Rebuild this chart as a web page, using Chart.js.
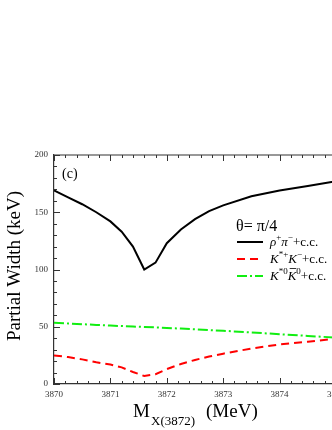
<!DOCTYPE html>
<html>
<head>
<meta charset="utf-8">
<script src="https://cdn.jsdelivr.net/npm/chart.js@4.4.1/dist/chart.umd.min.js"></script>
<style>
  html, body { margin: 0; padding: 0; background: #fff; overflow: hidden; }
  #wrap { position: absolute; left: 0; top: 0; width: 350px; height: 430px; }
</style>
</head>
<body>
<div id="wrap"><canvas id="grafico" width="350" height="430"></canvas></div>
<script>
// Datos
const masas = [3870, 3870.25, 3870.5, 3870.75, 3871, 3871.2, 3871.4, 3871.6, 3871.8, 3872,
               3872.25, 3872.5, 3872.75, 3873, 3873.5, 3874, 3874.5, 3875];
const rhoPi = [169, 163, 157, 150, 142, 133, 120, 100, 106, 123,
               135, 144, 151, 156, 164, 169, 173, 177];
const kStarKCargado = [25, 23.5, 21.5, 19, 17, 14.5, 10.5, 7, 8.5, 13,
                       17.5, 21, 24, 26.5, 31, 34.5, 37, 39.5];
const kStarKNeutro = [53.5, 52.9, 52.2, 51.6, 51, 50.6, 50.2, 49.8, 49.4, 49,
                      48.4, 47.8, 47.1, 46.5, 45, 43.5, 42, 40.5];
const xTicks = [3870, 3871, 3872, 3873, 3874, 3875];
const yTicks = [0, 50, 100, 150, 200];

const serif = '"Liberation Serif", "DejaVu Serif", serif';

function puntos(valores) {
    return masas.map((m, i) => ({ x: m, y: valores[i] }));
}

// Etiquetas de la leyenda (con superíndices)
const leyenda = [
    [['ρ', 'i'], ['+', 's'], ['π', 'i'], ['−', 's'], ['+c.c.', 'n']],
    [['K', 'i'], ['*+', 's'], ['K', 'i'], ['−', 's'], ['+c.c.', 'n']],
    [['K', 'i'], ['*0', 's'], ['K', 'io'], ['0', 's'], ['+c.c.', 'n']]
];

const decoracion = {
    id: 'decoracion',
    afterDraw(chart) {
        const ctx = chart.ctx;
        const a = chart.chartArea;
        const x = chart.scales.x;
        const y = chart.scales.y;
        ctx.save();
        ctx.strokeStyle = '#333';
        ctx.lineWidth = 1.2;

        // borde superior
        ctx.beginPath();
        ctx.moveTo(a.left, a.top);
        ctx.lineTo(a.right, a.top);
        ctx.stroke();

        // marcas hacia dentro en x (abajo y arriba)
        ctx.lineWidth = 1;
        for (let v = 3870; v <= 3875.001; v += 0.2) {
            const px = Math.round(x.getPixelForValue(v)) + 0.5;
            const mayor = Math.abs(v - Math.round(v)) < 0.01;
            const len = mayor ? 6 : 3;
            ctx.beginPath();
            ctx.moveTo(px, a.bottom);
            ctx.lineTo(px, a.bottom - len);
            ctx.moveTo(px, a.top);
            ctx.lineTo(px, a.top + len);
            ctx.stroke();
        }
        // marcas en y
        for (let v = 0; v <= 200; v += 10) {
            const py = Math.round(y.getPixelForValue(v)) + 0.5;
            const len = v % 50 === 0 ? 6 : 3;
            ctx.beginPath();
            ctx.moveTo(a.left, py);
            ctx.lineTo(a.left + len, py);
            ctx.stroke();
        }

        ctx.fillStyle = '#000';
        // (c)
        ctx.font = '14px ' + serif;
        ctx.textBaseline = 'alphabetic';
        ctx.fillText('(c)', 62, 178);

        // título eje y
        ctx.save();
        ctx.translate(20, 266);
        ctx.rotate(-Math.PI / 2);
        ctx.textAlign = 'center';
        ctx.font = '19px ' + serif;
        ctx.fillText('Partial Width (keV)', 0, 0);
        ctx.restore();

        // título eje x con subíndice
        ctx.font = '19px ' + serif;
        ctx.fillText('M', 133, 417);
        ctx.font = '13px ' + serif;
        ctx.fillText('X(3872)', 151, 425);
        ctx.font = '19px ' + serif;
        ctx.fillText('(MeV)', 206, 417);

        // theta
        ctx.font = '16px ' + serif;
        ctx.fillText('θ= π/4', 236, 231);

        // leyenda
        chart.data.datasets.forEach((ds, i) => {
            const ly = 242 + i * 17;
            ctx.save();
            ctx.strokeStyle = ds.borderColor;
            ctx.lineWidth = 2;
            ctx.setLineDash(ds.borderDash || []);
            ctx.beginPath();
            ctx.moveTo(237, ly);
            ctx.lineTo(263, ly);
            ctx.stroke();
            ctx.restore();

            let tx = 270;
            const base = ly + 4;
            leyenda[i].forEach(([t, tipo]) => {
                if (tipo === 's') {
                    ctx.font = '9px ' + serif;
                    ctx.fillText(t, tx, base - 6);
                } else {
                    ctx.font = (tipo[0] === 'i' ? 'italic ' : '') + '13px ' + serif;
                    ctx.fillText(t, tx, base);
                    if (tipo === 'io') {
                        const w = ctx.measureText(t).width;
                        ctx.beginPath();
                        ctx.strokeStyle = '#000';
                        ctx.lineWidth = 0.8;
                        ctx.moveTo(tx + 2, base - 11.5);
                        ctx.lineTo(tx + w, base - 11.5);
                        ctx.stroke();
                    }
                }
                tx += ctx.measureText(t).width;
            });
        });
        ctx.restore();
    }
};

const ctxGrafico = document.getElementById('grafico');
new Chart(ctxGrafico, {
    type: 'line',
    data: {
        datasets: [
            {
                label: 'ρ+π−+c.c.',
                data: puntos(rhoPi),
                borderColor: '#000000',
                borderWidth: 2,
                pointRadius: 0,
                tension: 0
            },
            {
                label: 'K*+K−+c.c.',
                data: puntos(kStarKCargado),
                borderColor: '#ff0000',
                borderWidth: 2,
                borderDash: [8, 5],
                pointRadius: 0,
                tension: 0
            },
            {
                label: 'K*0K0+c.c.',
                data: puntos(kStarKNeutro),
                borderColor: '#11ee11',
                borderWidth: 2,
                borderDash: [10, 3, 2, 3],
                pointRadius: 0,
                tension: 0
            }
        ]
    },
    options: {
        responsive: false,
        animation: false,
        layout: { padding: { top: 155, right: 11, left: 0, bottom: 0 } },
        plugins: { legend: { display: false }, tooltip: { enabled: false } },
        scales: {
            x: {
                type: 'linear',
                min: 3870,
                max: 3875,
                afterFit: s => { s.height = 46; },
                afterBuildTicks: s => { s.ticks = xTicks.map(v => ({ value: v })); },
                grid: { display: false, drawTicks: false },
                border: { display: true, color: '#333', width: 1.2 },
                ticks: {
                    autoSkip: false,
                    maxRotation: 0,
                    padding: 5,
                    color: '#333',
                    font: { family: serif, size: 9 },
                    callback: v => String(v)
                }
            },
            y: {
                min: 0,
                max: 200,
                afterFit: s => { s.width = 54; },
                afterBuildTicks: s => { s.ticks = yTicks.map(v => ({ value: v })); },
                grid: { display: false, drawTicks: false },
                border: { display: true, color: '#333', width: 1.2 },
                ticks: {
                    padding: 6,
                    color: '#333',
                    font: { family: serif, size: 9 }
                }
            }
        }
    },
    plugins: [decoracion]
});
</script>
</body>
</html>
